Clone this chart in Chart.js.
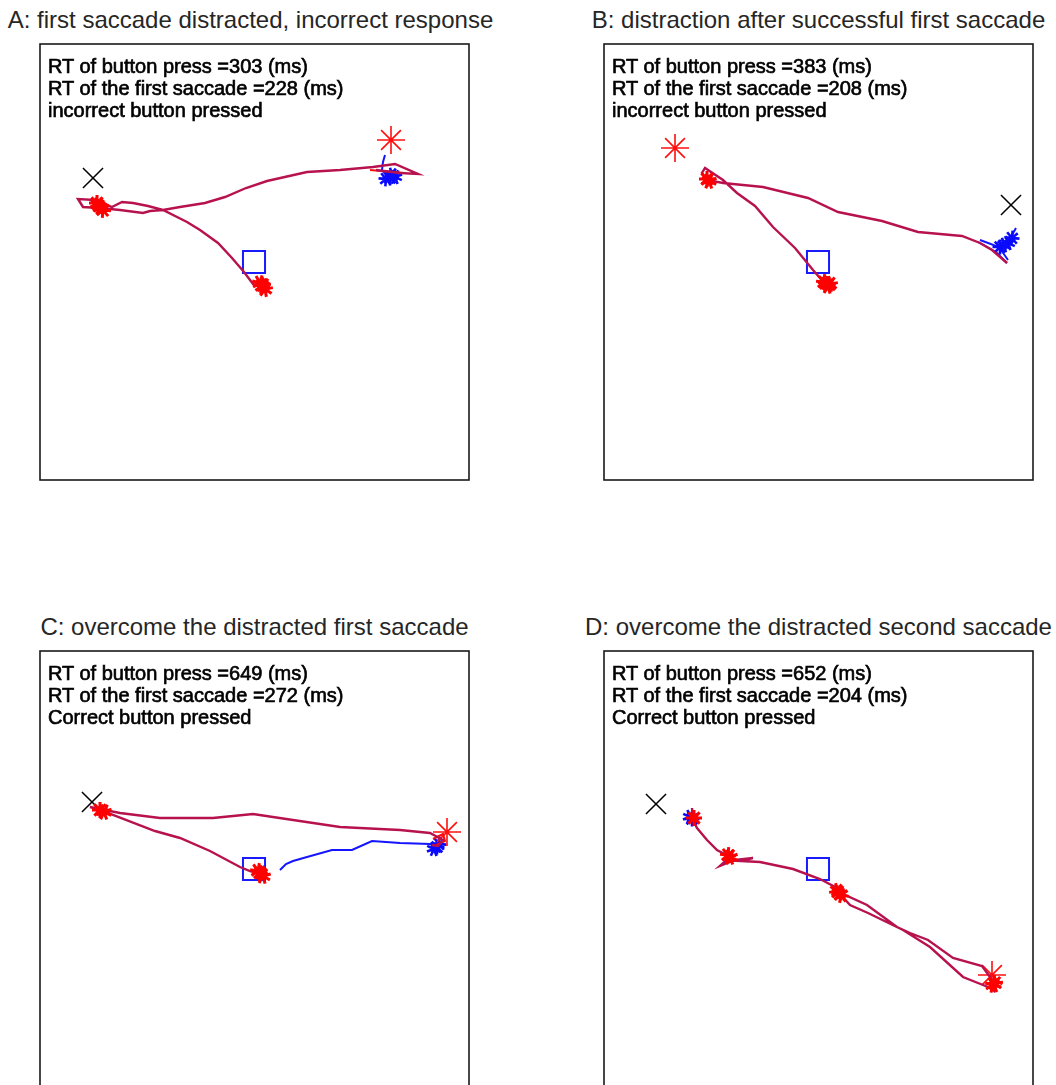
<!DOCTYPE html>
<html>
<head>
<meta charset="utf-8">
<script src="https://cdn.jsdelivr.net/npm/chart.js@4.4.0/dist/chart.umd.min.js"></script>
<style>
  html, body { margin: 0; padding: 0; width: 1056px; height: 1085px; overflow: hidden; background: #fff; }
  canvas { position: absolute; }
  .title {
    position: absolute; width: 600px; text-align: center; white-space: nowrap;
    font-family: "Liberation Sans", Arial, sans-serif; font-size: 24px; line-height: 28px; color: #262626;
  }
  .info {
    position: absolute; white-space: pre;
    font-family: "Liberation Sans", Arial, sans-serif; font-size: 20px; line-height: 22px;
    color: #000; -webkit-text-stroke: 0.65px #000;
  }
</style>
</head>
<body>
<script>
// ---- trial summaries ----
const panelTitles = [
  "A: first saccade distracted, incorrect response",
  "B: distraction after successful first saccade",
  "C: overcome the distracted first saccade",
  "D: overcome the distracted second saccade"
];
const rtButton  = [303, 383, 649, 652];
const rtSaccade = [228, 208, 272, 204];
const responses = ["incorrect button pressed", "incorrect button pressed",
                   "Correct button pressed", "Correct button pressed"];

// ---- stimulus positions (screen units, y down) ----
const crossPos    = [[53, 134], [407, 161], [52, 151], [52, 153]];
const asteriskPos = [[351, 96], [71, 104], [407, 181], [388, 324]];
const squarePos   = [[214, 218], [214, 218], [214, 218], [214, 218]];

// ---- eye traces ----
const traceA = [[222,242],[216,241],[213,240],[204,228],[192,214],[178,199],[160,186],[147,178],
  [123,166],[110,167],[103,169],[80,166],[60,164],[43,163],[38,155],[55,156],[72,163],[82,158],
  [93,159],[108,162],[123,166],[140,163],[165,159],[185,153],[206,144],[227,137],[267,128],
  [300,126],[333,123],[355,120],[378,130],[360,129],[336,126]];
const traceB = [[221,240],[216,234],[209,226],[191,204],[169,183],[151,162],[133,149],[119,136],
  [101,124],[98,129],[103,136],[119,139],[159,143],[204,154],[234,168],[278,177],[314,188],
  [358,192],[376,199],[388,206],[403,219]];
const traceC = [[222,223],[210,220],[200,216],[170,200],[140,187],[115,180],[60,159],[50,156],
  [65,159],[80,162],[120,167],[173,167],[213,163],[253,169],[300,176],[360,179],[390,182],
  [403,189],[398,195],[392,194]];
const traceD = [[88,157],[89,169],[93,177],[103,189],[113,199],[126,206],[116,215],[131,209],
  [149,207],[136,210],[156,211],[189,218],[216,228],[233,237],[237,242],[263,254],[293,276],
  [306,282],[324,289],[349,307],[378,315],[386,326],[391,334],[390,340],[384,336],[359,326],
  [326,296],[299,279],[264,262],[246,254],[237,244]];

// secondary (blue) eye segments
const blueTracesA = [[[345,111],[343,118],[342,126],[346,131],[352,134]]];
const blueTracesB = [[[374,198],[392,208],[403,219]], [[412,184],[404,198],[396,204]],
  [[376,196],[395,203],[404,216]]];
const blueTracesC = [[[240,219],[246,213],[253,210],[267,206],[292,199],[312,199],[332,190],
  [360,192],[390,193],[397,195]]];
const blueTracesD = [];

// short red segments
const redTracesA = [[[330,126],[365,129]]];
const redTracesC = [[[393,188],[403,183],[405,190],[396,194]]];

// fixation clusters
const redFixA  = [[57,159],[60,163],[63,166],[58,161],[222,242],[225,245],[220,239],[223,241]];
const blueFixA = [[350,134],[355,133],[346,135],[352,131]];
const redFixB  = [[103,135],[105,137],[220,238],[224,242],[222,240],[226,240]];
const blueFixB = [[396,203],[404,199],[408,194],[400,201]];
const redFixC  = [[60,159],[64,161],[220,222],[223,225],[218,220]];
const blueFixC = [[397,196],[394,198],[399,193]];
const redFixD  = [[90,167],[126,206],[124,204],[235,242],[237,244],[233,240],[389,334],[391,332]];
const blueFixD = [[88,168],[86,166]];

// ---- layout ----
const boxes = [
  { left: 40,  top: 44,  titleDx: -4 }, { left: 604, top: 44,  titleDx: 0 },
  { left: 40,  top: 651, titleDx: 0 },  { left: 604, top: 651, titleDx: 0 }
];
const BOX_W = 429, BOX_H = 436, PAD = 10;

const panels = [
  { trace: traceA, blue: blueTracesA, red: redTracesA, redFix: redFixA, blueFix: blueFixA },
  { trace: traceB, blue: blueTracesB, red: [],         redFix: redFixB, blueFix: blueFixB },
  { trace: traceC, blue: blueTracesC, red: redTracesC, redFix: redFixC, blueFix: blueFixC },
  { trace: traceD, blue: blueTracesD, red: [],         redFix: redFixD, blueFix: blueFixD }
];

const toXY = arr => arr.map(p => ({ x: p[0], y: p[1] }));

const framePlugin = {
  id: 'frame',
  afterDraw(chart) {
    const { ctx, chartArea: a } = chart;
    ctx.save();
    ctx.strokeStyle = '#1a1a1a';
    ctx.lineWidth = 1.6;
    ctx.strokeRect(a.left, a.top, a.right - a.left, a.bottom - a.top);
    ctx.restore();
  }
};

function lineSet(points, color, width, order) {
  return { data: toXY(points), showLine: true, borderColor: color, borderWidth: width,
           pointRadius: 0, tension: 0, order: order, clip: false };
}

panels.forEach((p, i) => {
  const box = boxes[i];

  const t = document.createElement('div');
  t.className = 'title';
  t.textContent = panelTitles[i];
  t.style.left = (box.left + BOX_W / 2 - 300 + box.titleDx) + 'px';
  t.style.top = (box.top - 38) + 'px';
  document.body.appendChild(t);

  const canvas = document.createElement('canvas');
  canvas.width = BOX_W + 2 * PAD;
  canvas.height = BOX_H + 2 * PAD;
  canvas.style.left = (box.left - PAD) + 'px';
  canvas.style.top = (box.top - PAD) + 'px';
  document.body.appendChild(canvas);

  const info = document.createElement('div');
  info.className = 'info';
  info.textContent = 'RT of button press =' + rtButton[i] + ' (ms)\n' +
                     'RT of the first saccade =' + rtSaccade[i] + ' (ms)\n' + responses[i];
  info.style.left = (box.left + 8) + 'px';
  info.style.top = (box.top + 11) + 'px';
  document.body.appendChild(info);

  const datasets = [];
  p.blue.forEach(seg => datasets.push(lineSet(seg, '#1414ff', 2, 4)));
  datasets.push({ data: toXY(p.blueFix), pointStyle: 'star', pointRadius: 7.5, rotation: c => c.dataIndex * 25,
                  borderColor: '#0a0aff', borderWidth: 2.6, backgroundColor: '#0a0aff', order: 3, clip: false });
  datasets.push({ data: toXY(squarePos.slice(i, i + 1)), pointStyle: 'rect', pointRadius: 15.6,
                  borderColor: '#1a1aff', borderWidth: 2, backgroundColor: 'rgba(0,0,0,0)', order: 2 });
  datasets.push({ data: toXY(crossPos.slice(i, i + 1)), pointStyle: 'crossRot', pointRadius: 14.2,
                  borderColor: '#000', borderWidth: 1.5, order: 2 });
  datasets.push({ data: toXY(asteriskPos.slice(i, i + 1)), pointStyle: 'star', pointRadius: 14,
                  borderColor: '#ff1010', borderWidth: 1.6, order: 2 });
  datasets.push(lineSet(p.trace, '#b8124e', 2.4, 1));
  p.red.forEach(seg => datasets.push(lineSet(seg, '#ff0a0a', 2, 1)));
  datasets.push({ data: toXY(p.redFix), pointStyle: 'star', pointRadius: 8, rotation: c => c.dataIndex * 25,
                  borderColor: '#ff0000', borderWidth: 3, backgroundColor: '#ff0000', order: 0, clip: false });

  new Chart(canvas.getContext('2d'), {
    type: 'scatter',
    data: { datasets },
    options: {
      responsive: false,
      animation: false,
      devicePixelRatio: 1,
      layout: { padding: PAD, autoPadding: false },
      plugins: { legend: { display: false }, tooltip: { enabled: false }, title: { display: false } },
      scales: {
        x: { type: 'linear', min: 0, max: BOX_W, display: false },
        y: { type: 'linear', min: 0, max: BOX_H, reverse: true, display: false }
      }
    },
    plugins: [framePlugin]
  });
});
</script>
</body>
</html>
